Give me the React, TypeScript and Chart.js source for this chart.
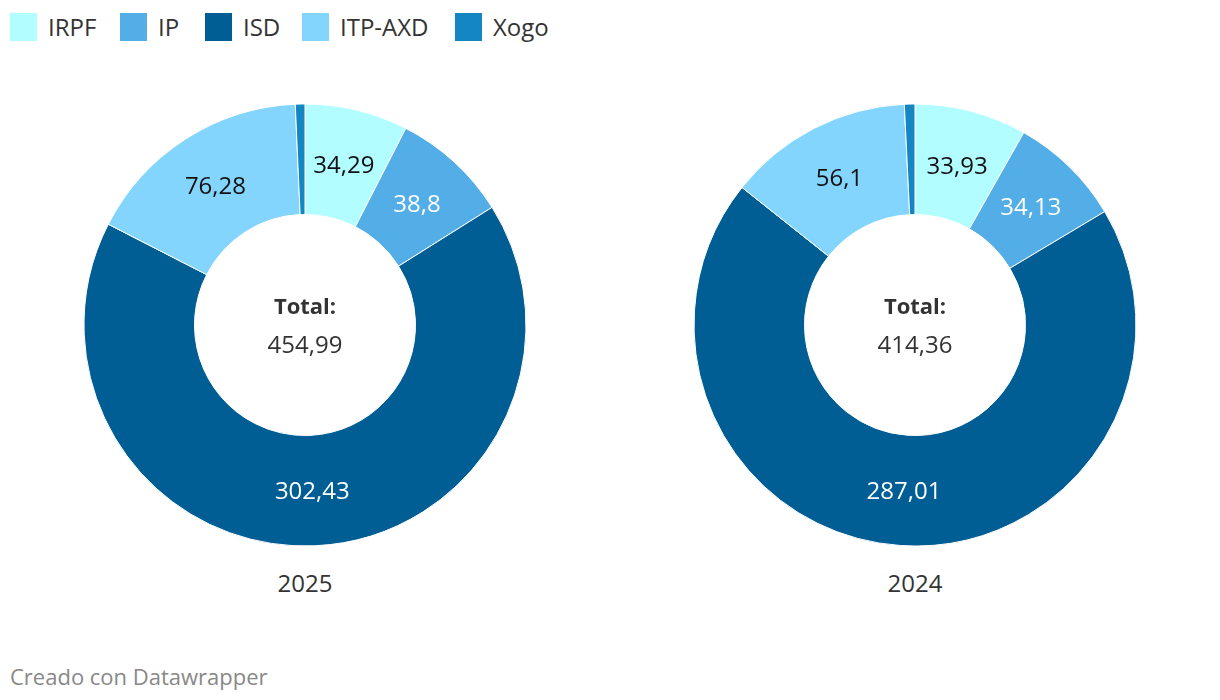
import React, { useEffect, useRef } from "react";
import { Chart, registerables } from "chart.js";

Chart.register(...registerables);

const categories = ["IRPF", "IP", "ISD", "ITP-AXD", "Xogo"];
const colors = ["#b1fdff", "#53aee8", "#005e95", "#83d5fe", "#1487c3"];
const labelColors = ["#111111", "#ffffff", "#ffffff", "#111111", "#ffffff"];
const values2025 = [34.29, 38.8, 302.43, 76.28, 3.19];
const values2024 = [33.93, 34.13, 287.01, 56.1, 3.19];
const total2025 = "454,99";
const total2024 = "414,36";
const years = ["2025", "2024"];

const FONT = "'Open Sans', 'Noto Sans', sans-serif";

const fmt = (v: number) => String(v).replace(".", ",");

const labelPlugin = {
  id: "sliceLabels",
  afterDatasetsDraw(chart: any) {
    const ctx = chart.ctx;
    const meta = chart.getDatasetMeta(0);
    const data = chart.data.datasets[0].data as number[];
    const total = data.reduce((a, b) => a + b, 0);
    ctx.save();
    ctx.font = `24px ${FONT}`;
    ctx.textAlign = "center";
    ctx.textBaseline = "middle";
    meta.data.forEach((arc: any, i: number) => {
      if (data[i] / total < 0.03) return;
      const p = arc.tooltipPosition();
      ctx.fillStyle = labelColors[i];
      ctx.fillText(fmt(data[i]), p.x, p.y + 2);
    });
    ctx.restore();
  },
};

function Donut({ values, left }: { values: number[]; left: number }) {
  const ref = useRef<HTMLCanvasElement>(null);
  useEffect(() => {
    const chart = new Chart(ref.current!, {
      type: "doughnut",
      data: {
        labels: categories,
        datasets: [
          {
            data: values,
            backgroundColor: colors,
            borderColor: "#ffffff",
            borderWidth: 1,
          },
        ],
      },
      options: {
        responsive: false,
        animation: false,
        radius: 221,
        cutout: "50%",
        layout: { padding: 0 },
        plugins: { legend: { display: false }, tooltip: { enabled: false } },
      },
      plugins: [labelPlugin],
    });
    return () => chart.destroy();
  }, []);
  return (
    <canvas
      ref={ref}
      width={460}
      height={460}
      style={{ position: "absolute", left, top: 95, width: 460, height: 460 }}
    />
  );
}

export default function App() {
  const centers = [305, 915];
  const totals = [total2025, total2024];
  const vals = [values2025, values2024];
  const legendX = [10, 120, 205, 302, 455];
  return (
    <div
      style={{
        position: "absolute",
        left: 0,
        top: 0,
        width: 1220,
        height: 700,
        background: "#fff",
        fontFamily: FONT,
        color: "#333",
      }}
    >
      {categories.map((c, i) => (
        <div key={c} style={{ position: "absolute", left: legendX[i], top: 13, height: 28, display: "flex", alignItems: "center" }}>
          <div style={{ width: 27, height: 28, background: colors[i] }} />
          <span style={{ marginLeft: 11, fontSize: 24, color: "#333", lineHeight: "28px" }}>{c}</span>
        </div>
      ))}
      {centers.map((cx, k) => (
        <React.Fragment key={k}>
          <Donut values={vals[k]} left={cx - 230} />
          <div style={{ position: "absolute", left: cx - 100, width: 200, top: 290, textAlign: "center", fontSize: 22, fontWeight: 700, lineHeight: "30px" }}>
            Total:
          </div>
          <div style={{ position: "absolute", left: cx - 100, width: 200, top: 329, textAlign: "center", fontSize: 24, lineHeight: "30px" }}>
            {totals[k]}
          </div>
          <div style={{ position: "absolute", left: cx - 100, width: 200, top: 568, textAlign: "center", fontSize: 24, lineHeight: "30px" }}>
            {years[k]}
          </div>
        </React.Fragment>
      ))}
      <div style={{ position: "absolute", left: 10, top: 661, fontSize: 22, color: "#888", lineHeight: "30px" }}>
        Creado con Datawrapper
      </div>
    </div>
  );
}
